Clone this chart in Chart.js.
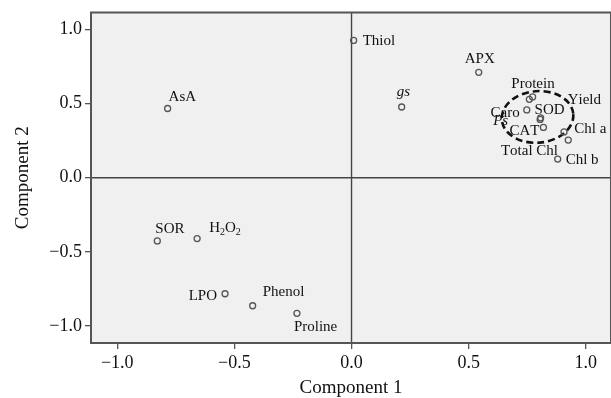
<!DOCTYPE html>
<html>
<head>
  <meta charset="utf-8">
  <script src="https://cdn.jsdelivr.net/npm/chart.js@4.4.1/dist/chart.umd.min.js"></script>
  <style>
    body { margin: 0; background: white; }
    #wrap { width: 611px; height: 398px; }
  </style>
</head>
<body>
<div id="wrap"><canvas id="myChart"></canvas></div>
<script>
  // variable names and loadings on the two components
  var names = ['AsA', 'Thiol', 'APX', 'gs', 'SOR', 'H₂O₂', 'LPO', 'Phenol', 'Proline',
    'Protein', 'Yield', 'Caro', 'SOD', 'Ps', 'CAT', 'Total Chl', 'Chl a', 'Chl b'];
  var comp1 = [-0.785, 0.009, 0.543, 0.214, -0.829, -0.659, -0.540, -0.422, -0.233,
    0.759, 0.773, 0.748, 0.807, 0.805, 0.819, 0.907, 0.925, 0.880];
  var comp2 = [0.467, 0.926, 0.711, 0.477, -0.426, -0.410, -0.782, -0.863, -0.914,
    0.529, 0.545, 0.457, 0.404, 0.393, 0.339, 0.309, 0.254, 0.126];
  var tickValues = [-1.0, -0.5, 0.0, 0.5, 1.0];
  var italicNames = ['gs', 'Ps'];

  // label placement: [dx, dy, align] in pixels from the point
  var labelPlace = [
    [1, -7, 'left'], [9, 5, 'left'], [-14, -9, 'left'], [-5, -11, 'left'],
    [-2, -8, 'left'], [12, -7, 'left'], [-8, 6, 'right'], [10, -10, 'left'],
    [-3, 18, 'left'], [-18, -11, 'left'], [35, 7, 'left'], [-7, 7, 'right'],
    [-6, -4, 'left'], [-47, 6, 'left'], [-4, 8, 'right'], [-6, 23, 'right'],
    [6, -7, 'left'], [8, 5, 'left']
  ];

  var points = comp1.map(function (v, i) { return { x: v, y: comp2[i] }; });

  function fmt(v) {
    return v.toFixed(1).replace('-', '\u2212');
  }

  // draws text, turning subscript digits into small lowered digits
  function drawRich(ctx, text, x, y, align, italic) {
    var big = (italic ? 'italic ' : '') + '15px "Liberation Serif"';
    var small = '10px "Liberation Serif"';
    var parts = [];
    for (var c of text) {
      var code = c.charCodeAt(0);
      if (code >= 0x2080 && code <= 0x2089) parts.push([String(code - 0x2080), true]);
      else parts.push([c, false]);
    }
    var w = 0;
    parts.forEach(function (p) {
      ctx.font = p[1] ? small : big;
      w += ctx.measureText(p[0]).width;
    });
    var cx = align === 'right' ? x - w : x;
    ctx.textAlign = 'left';
    ctx.textBaseline = 'alphabetic';
    parts.forEach(function (p) {
      ctx.font = p[1] ? small : big;
      ctx.fillText(p[0], cx, y + (p[1] ? 3 : 0));
      cx += ctx.measureText(p[0]).width;
    });
  }

  var framePlugin = {
    id: 'frame',
    beforeDraw: function (chart) {
      var a = chart.chartArea, ctx = chart.ctx;
      ctx.save();
      ctx.fillStyle = '#f0f0f0';
      ctx.fillRect(a.left, a.top, a.right - a.left, a.bottom - a.top);
      ctx.restore();
    },
    beforeDatasetsDraw: function (chart) {
      var a = chart.chartArea, ctx = chart.ctx;
      var xs = chart.scales.x, ys = chart.scales.y;
      ctx.save();
      ctx.strokeStyle = '#444';
      ctx.lineWidth = 1.4;
      var x0 = xs.getPixelForValue(0), y0 = ys.getPixelForValue(0);
      ctx.beginPath();
      ctx.moveTo(x0, a.top); ctx.lineTo(x0, a.bottom);
      ctx.moveTo(a.left, y0); ctx.lineTo(a.right, y0);
      ctx.stroke();
      ctx.strokeStyle = '#555';
      ctx.lineWidth = 2;
      ctx.strokeRect(a.left, a.top, a.right - a.left, a.bottom - a.top);
      // dashed ellipse round the cluster
      var cx = xs.getPixelForValue(0.794), cy = ys.getPixelForValue(0.41);
      var rx = xs.getPixelForValue(0.794 + 0.153) - cx;
      var ry = cy - ys.getPixelForValue(0.41 + 0.174);
      ctx.strokeStyle = '#111';
      ctx.lineWidth = 2.6;
      ctx.setLineDash([7, 4]);
      ctx.beginPath();
      ctx.ellipse(cx, cy, rx, ry, -0.08, 0, Math.PI * 2);
      ctx.stroke();
      ctx.restore();
    },
    afterDatasetsDraw: function (chart) {
      var ctx = chart.ctx;
      var xs = chart.scales.x, ys = chart.scales.y;
      ctx.save();
      ctx.fillStyle = '#111';
      names.forEach(function (n, i) {
        var px = xs.getPixelForValue(comp1[i]), py = ys.getPixelForValue(comp2[i]);
        var p = labelPlace[i];
        drawRich(ctx, n, px + p[0], py + p[1], p[2], italicNames.indexOf(n) >= 0);
      });
      ctx.restore();
    }
  };

  var tickFont = { family: 'Liberation Serif', size: 18 };
  var titleFont = { family: 'Liberation Serif', size: 19, lineHeight: 1 };

  var ctx = document.getElementById('myChart').getContext('2d');
  var chart = new Chart(ctx, {
    type: 'scatter',
    data: {
      datasets: [{
        data: points,
        pointRadius: 3,
        pointBorderWidth: 1.3,
        borderColor: '#555',
        backgroundColor: 'rgba(0,0,0,0)'
      }]
    },
    plugins: [framePlugin],
    options: {
      responsive: true,
      maintainAspectRatio: false,
      animation: false,
      layout: { autoPadding: false, padding: { top: 12.5, right: 0, left: 0, bottom: 0 } },
      plugins: { legend: { display: false }, tooltip: { enabled: false } },
      scales: {
        x: {
          type: 'linear',
          min: -1.112,
          max: 1.1075,
          afterBuildTicks: function (s) { s.ticks = tickValues.map(function (v) { return { value: v }; }); },
          afterFit: function (s) { s.height = 55; s.paddingLeft = 0; s.paddingRight = 0; },
          ticks: { callback: fmt, color: '#111', font: tickFont, padding: 3, maxRotation: 0 },
          grid: { drawOnChartArea: false, tickLength: 6, color: '#555', lineWidth: 1.3 },
          border: { display: false },
          title: { display: true, text: 'Component 1', color: '#111', font: titleFont, padding: { top: 0, bottom: 0 } }
        },
        y: {
          type: 'linear',
          min: -1.114,
          max: 1.114,
          afterBuildTicks: function (s) { s.ticks = tickValues.map(function (v) { return { value: v }; }); },
          afterFit: function (s) { s.width = 91; s.paddingTop = 0; s.paddingBottom = 0; },
          ticks: { callback: fmt, color: '#111', font: tickFont, padding: 3 },
          grid: { drawOnChartArea: false, tickLength: 6, color: '#555', lineWidth: 1.3 },
          border: { display: false },
          title: { display: true, text: 'Component 2', color: '#111', font: titleFont, padding: { top: 14, bottom: 0 } }
        }
      }
    }
  });
</script>
</body>
</html>
